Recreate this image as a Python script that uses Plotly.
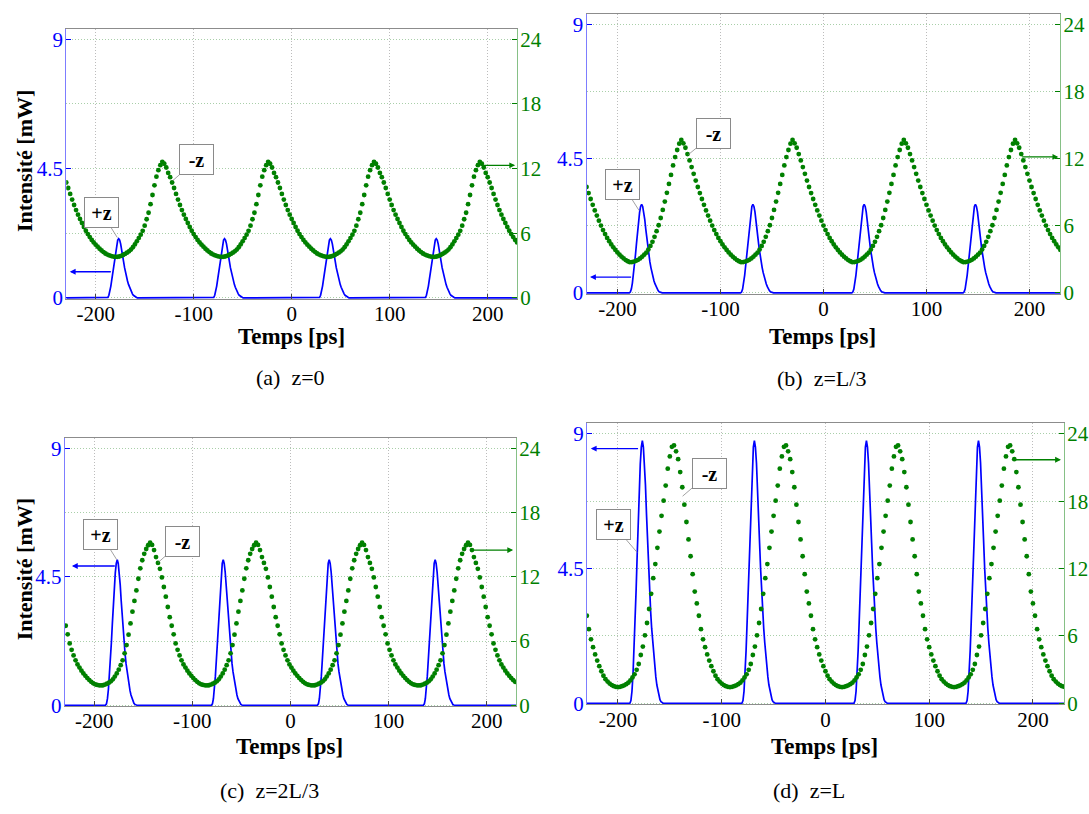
import plotly.graph_objects as go

# ---------------- data ----------------
x_ticks = [-200, -100, 0, 100, 200]
x_tick_labels = ["-200", "-100", "0", "100", "200"]
left_ticks = [0, 4.5, 9]
left_tick_labels = ["0", "4.5", "9"]
right_ticks = [0, 6, 12, 18, 24]
right_tick_labels = ["0", "6", "12", "18", "24"]

time_range = [-230, 230]
period_ps = 108          # pulse repetition period
dot_step_ps = 2          # spacing of the green samples

# blue (+z) pulse : peak times and samples around each peak (ps offsets)
blue_peak_times = [-176.5, -68.5, 39.5, 147.5]
blue_offsets = list(range(-12, 21))
blue_a = [0, 0.02, 0.09, 0.23, 0.41, 0.64, 0.89, 1.15, 1.42, 1.67, 1.87, 2.01, 2.06,
          2.01, 1.88, 1.71, 1.48, 1.26, 1.05, 0.87, 0.72, 0.59, 0.47, 0.37, 0.28,
          0.21, 0.14, 0.09, 0.06, 0.03, 0.01, 0.0, 0]
blue_b = [0, 0.03, 0.13, 0.33, 0.59, 0.92, 1.28, 1.66, 2.05, 2.41, 2.70, 2.90, 2.97,
          2.90, 2.72, 2.47, 2.14, 1.81, 1.51, 1.25, 1.04, 0.85, 0.68, 0.53, 0.40,
          0.30, 0.21, 0.13, 0.08, 0.04, 0.02, 0.01, 0]
blue_c = [0, 0.05, 0.23, 0.56, 1.02, 1.58, 2.19, 2.86, 3.52, 4.13, 4.64, 4.97, 5.10,
          4.97, 4.67, 4.23, 3.67, 3.11, 2.60, 2.14, 1.79, 1.45, 1.17, 0.92, 0.69,
          0.51, 0.36, 0.23, 0.14, 0.07, 0.03, 0.01, 0]
blue_d = [0, 0.09, 0.40, 0.97, 1.76, 2.72, 3.78, 4.92, 6.06, 7.11, 7.99, 8.56, 8.78,
          8.56, 8.03, 7.29, 6.32, 5.36, 4.48, 3.69, 3.07, 2.50, 2.02, 1.58, 1.19,
          0.88, 0.61, 0.40, 0.24, 0.12, 0.05, 0.02, 0]

# green (-z) : one period of samples, starting at a minimum (right-axis units)
green_start_a = -180
green_a = [3.80, 3.81, 3.84, 3.90, 3.98, 4.08, 4.20, 4.32, 4.48, 4.70, 4.96, 5.25, 5.55,
           5.87, 6.22, 6.70, 7.30, 7.90, 8.70, 9.55, 10.45, 11.25, 11.85, 12.32, 12.63,
           12.45, 12.10, 11.60, 11.20, 10.71, 10.20, 9.65, 9.12, 8.62, 8.15, 7.72, 7.32,
           6.95, 6.58, 6.23, 5.92, 5.64, 5.38, 5.15, 4.94, 4.75, 4.56, 4.40, 4.25, 4.12,
           4.02, 3.94, 3.88, 3.83]
green_start_b = -188
green_b = [2.75, 2.76, 2.80, 2.87, 2.96, 3.08, 3.24, 3.42, 3.60, 3.88, 4.20, 4.57, 5.02,
           5.52, 6.05, 6.70, 7.42, 8.17, 8.95, 9.75, 10.55, 11.40, 12.15, 12.78, 13.35,
           13.68, 13.38, 12.98, 12.42, 11.85, 11.25, 10.65, 10.05, 9.47, 8.93, 8.40, 7.88,
           7.38, 6.92, 6.46, 6.02, 5.62, 5.26, 4.92, 4.62, 4.34, 4.08, 3.84, 3.62, 3.42,
           3.24, 3.08, 2.94, 2.83]
green_start_c = -193
green_c = [1.85, 1.87, 1.93, 2.01, 2.11, 2.24, 2.42, 2.68, 2.98, 3.33, 3.75, 4.20, 4.85,
           5.62, 6.60, 7.65, 8.75, 9.75, 10.73, 11.82, 12.80, 13.55, 14.15, 14.60, 14.95,
           15.19, 14.98, 14.50, 13.85, 13.30, 12.75, 11.95, 11.05, 10.15, 9.18, 8.23, 7.43,
           6.63, 5.78, 5.18, 4.66, 4.20, 3.82, 3.52, 3.23, 2.98, 2.75, 2.54, 2.35, 2.19,
           2.05, 1.96, 1.90, 1.86]
green_start_d = -200
green_d = [1.43, 1.46, 1.52, 1.60, 1.70, 1.83, 2.03, 2.30, 2.58, 2.98, 3.50, 4.30, 5.05,
           6.05, 7.15, 8.40, 9.75, 11.15, 12.40, 13.85, 15.30, 16.70, 18.05, 19.40, 20.90,
           22.00, 22.85, 22.98, 22.45, 21.75, 20.60, 19.25, 17.70, 16.15, 14.60, 13.10,
           11.50, 9.95, 8.90, 7.80, 6.60, 5.70, 5.00, 4.35, 3.80, 3.30, 2.85, 2.45, 2.15,
           1.93, 1.75, 1.62, 1.52, 1.46]

captions = ["(a)  z=0", "(b)  z=L/3", "(c)  z=2L/3", "(d)  z=L"]

# ---------------- layout / style config ----------------
W, H = 1089, 814
BLUE = "#0000ff"
GREEN = "#008000"
SERIF = "Liberation Serif, Times New Roman, Times, serif"
Y_LEFT_RANGE = [-0.035, 9.35]
Y_RIGHT_RANGE = [Y_LEFT_RANGE[0] * 24 / 9, Y_LEFT_RANGE[1] * 24 / 9]

panels = [
    dict(box=(66.5, 519, 27.7, 301.7), blue=blue_a, gstart=green_start_a, green=green_a,
         ylabel=True, caption=(292, 382), xtitle=(293, 340),
         plus=(-177.9, 2.10, -16, -25.5), minus=(-121.4, 4.08, 24, -21),
         barrow=(-183, -226.4, 0.91), garrow=(192.4, 228, 12.3)),
    dict(box=(588.7, 1064.3, 12.3, 296.7), blue=blue_b, gstart=green_start_b, green=green_b,
         ylabel=False, caption=(825, 383), xtitle=(826, 340),
         plus=(-178.9, 2.76, -17, -26.5), minus=(-131.1, 4.64, 25.5, -21),
         barrow=(-185.3, -226.6, 0.53), garrow=(191.4, 228, 12.16)),
    dict(box=(65, 518, 443.5, 715.7), blue=blue_c, gstart=green_start_c, green=green_c,
         ylabel=True, caption=(270, 801), xtitle=(291, 757),
         plus=(-177, 5.1, -16, -25.5), minus=(-134.6, 5.01, 23.7, -21),
         barrow=(-177.5, -222.7, 4.88), garrow=(182.5, 227, 14.5)),
    dict(box=(589, 1068, 428.3, 713.7), blue=blue_d, gstart=green_start_d, green=green_d,
         ylabel=False, caption=(812, 801), xtitle=(828, 757),
         plus=(-181.5, 5.04, -24, -28), minus=(-137.7, 6.92, 26.5, -22.7),
         barrow=(-179.2, -226.2, 8.51), garrow=(179.4, 227, 21.7)),
]


def px_x(px):
    return px / W


def px_y(py):
    return 1 - py / H


fig = go.Figure()
annotations = []
layout = dict(width=W, height=H, margin=dict(l=0, r=0, t=0, b=0),
              paper_bgcolor="white", plot_bgcolor="white", showlegend=False)

for i, p in enumerate(panels):
    n = i + 1
    xa = "x" if n == 1 else f"x{n}"
    yl_idx, yr_idx = 2 * i + 1, 2 * i + 2
    yl = "y" if yl_idx == 1 else f"y{yl_idx}"
    yr = f"y{yr_idx}"

    # blue line
    bx, by = [time_range[0]], [0]
    for pk in blue_peak_times:
        for off, v in zip(blue_offsets, p["blue"]):
            bx.append(pk + off)
            by.append(v)
    bx.append(time_range[1])
    by.append(0)
    fig.add_trace(go.Scatter(x=bx, y=by, mode="lines", xaxis=xa, yaxis=yl,
                             line=dict(color=BLUE, width=1.7), hoverinfo="skip"))

    # green dots
    gx, gy = [], []
    for m in range(-1, 5):
        for k, v in enumerate(p["green"]):
            t = p["gstart"] + m * period_ps + k * dot_step_ps
            if time_range[0] <= t <= time_range[1]:
                gx.append(t)
                gy.append(v)
    fig.add_trace(go.Scatter(x=gx, y=gy, mode="markers", xaxis=xa, yaxis=yr,
                             marker=dict(color=GREEN, size=4.8, line=dict(width=0)),
                             hoverinfo="skip"))

    x0, x1, ytop, ybot = p["box"]
    xkey = "xaxis" if n == 1 else f"xaxis{n}"
    ylkey = "yaxis" if yl_idx == 1 else f"yaxis{yl_idx}"
    yrkey = f"yaxis{yr_idx}"
    layout[xkey] = dict(domain=[px_x(x0), px_x(x1)], anchor=yl, range=time_range,
                        tickvals=x_ticks, ticktext=x_tick_labels, ticks="inside",
                        ticklen=5, tickcolor="#444444", ticklabelstandoff=-4,
                        tickfont=dict(family=SERIF, size=21, color="black"),
                        showgrid=True, gridcolor="#bcbcbc", griddash="1px,2px",
                        gridwidth=1,
                        showline=True, linecolor="#8c8c8c", linewidth=1, mirror=True,
                        zeroline=False, fixedrange=True)
    layout[ylkey] = dict(domain=[px_y(ybot), px_y(ytop)], anchor=xa, range=Y_LEFT_RANGE,
                         tickvals=left_ticks, ticktext=left_tick_labels, ticks="inside",
                         ticklen=5, tickcolor=BLUE, ticklabelstandoff=-2,
                         tickfont=dict(family=SERIF, size=21, color=BLUE),
                         showgrid=False, zeroline=False, showline=True,
                         linecolor="#7d7dff", linewidth=1, fixedrange=True)
    layout[yrkey] = dict(overlaying=yl, side="right", anchor=xa, range=Y_RIGHT_RANGE,
                         tickvals=right_ticks, ticktext=right_tick_labels, ticks="inside",
                         ticklen=5, tickcolor=GREEN, ticklabelstandoff=-2,
                         tickfont=dict(family=SERIF, size=21, color=GREEN),
                         showgrid=True, gridcolor="#a9cfa9", griddash="1px,2px",
                         gridwidth=1,
                         zeroline=False, showline=True, linecolor="#86c086", linewidth=1,
                         fixedrange=True)

    # +z / -z labels
    for txt, (tx, ty, ax, ay) in (("+z", p["plus"]), ("-z", p["minus"])):
        annotations.append(dict(x=tx, y=ty, xref=xa, yref=yl, text=f"<b>{txt}</b>",
                                showarrow=True, arrowhead=0, arrowwidth=0.8,
                                arrowcolor="#8a8a8a", ax=ax, ay=ay,
                                font=dict(family=SERIF, size=20, color="black"),
                                bgcolor="white", bordercolor="#8a8a8a", borderwidth=1,
                                borderpad=4, width=25, height=21))
    # axis arrows
    t0, t1, yv = p["barrow"]
    annotations.append(dict(x=t1, y=yv, xref=xa, yref=yl, ax=t0, ay=yv, axref=xa,
                            ayref=yl, text="", showarrow=True, arrowhead=2,
                            arrowsize=0.9, arrowwidth=1.3, arrowcolor=BLUE, standoff=0))
    t0, t1, yv = p["garrow"]
    annotations.append(dict(x=t1, y=yv, xref=xa, yref=yr, ax=t0, ay=yv, axref=xa,
                            ayref=yr, text="", showarrow=True, arrowhead=2,
                            arrowsize=0.9, arrowwidth=1.3, arrowcolor=GREEN, standoff=0))

    # axis titles & caption
    tx, ty = p["xtitle"]
    annotations.append(dict(x=px_x(tx), y=px_y(ty), xref="paper", yref="paper",
                            text="<b>Temps [ps]</b>", showarrow=False,
                            font=dict(family=SERIF, size=23, color="black"),
                            xanchor="center", yanchor="middle"))
    if p["ylabel"]:
        ycen = (ytop + ybot) / 2 - 3
        annotations.append(dict(x=px_x(24), y=px_y(ycen), xref="paper", yref="paper",
                                text="<b>Intensité [mW]</b>", showarrow=False,
                                textangle=-90,
                                font=dict(family=SERIF, size=22, color="black"),
                                xanchor="center", yanchor="middle"))
    cx, cy = p["caption"]
    annotations.append(dict(x=px_x(cx), y=px_y(cy), xref="paper", yref="paper",
                            text=captions[i], showarrow=False,
                            font=dict(family=SERIF, size=22, color="black"),
                            xanchor="center", yanchor="middle"))

layout["annotations"] = annotations
fig.update_layout(**layout)
fig.write_html(
    "out.html", config={"displayModeBar": False},
    post_script=("document.documentElement.style.margin='0';"
                 "document.documentElement.style.overflow='hidden';"
                 "document.body.style.margin='0';document.body.style.padding='0';"
                 "document.body.style.overflow='hidden';"))
